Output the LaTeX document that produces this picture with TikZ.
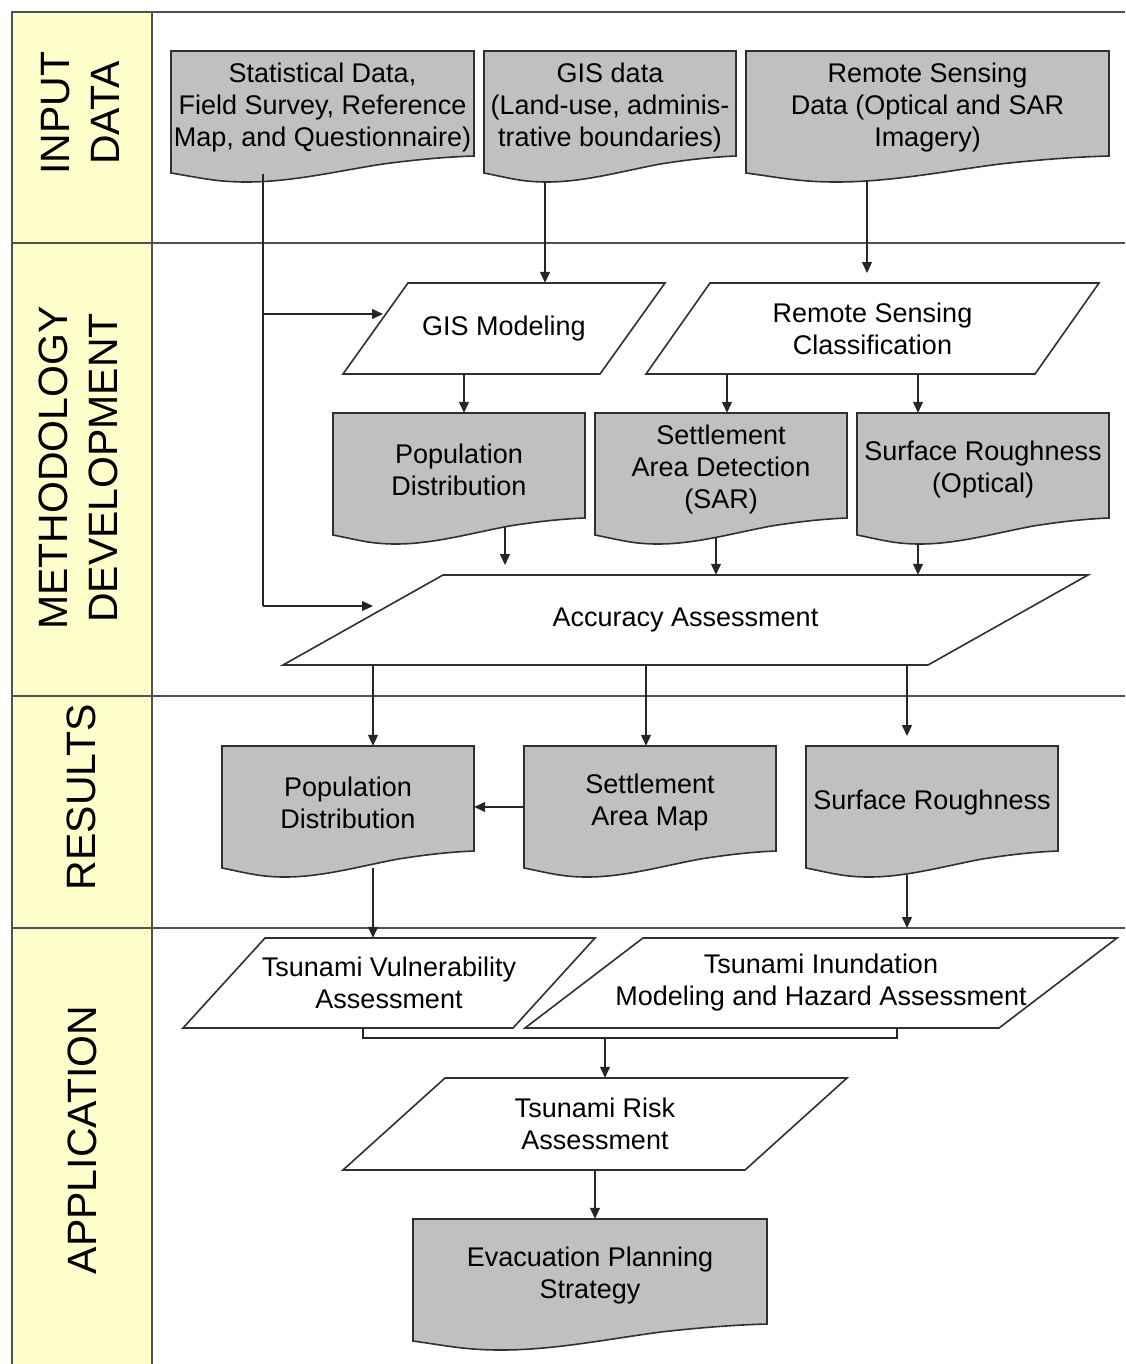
\documentclass[tikz,border=0pt]{standalone}
\usepackage{fontspec}
\setmainfont{Liberation Sans}
\usetikzlibrary{arrows.meta}

\definecolor{lanefill}{HTML}{FFFFCC}
\definecolor{docgray}{HTML}{C0C0C0}
\definecolor{edgecol}{HTML}{303030}
\definecolor{lanecol}{HTML}{505050}

\tikzset{
  boxtext/.style={font=\fontsize{27}{32}\selectfont, align=center, inner sep=0pt, text=black},
  lanetext/.style={font=\fontsize{41}{50}\selectfont, align=center, rotate=90, inner sep=0pt},
  shapeline/.style={draw=edgecol, line width=1.6pt, line join=miter},
  docshape/.style={shapeline, fill=docgray},
  parashape/.style={shapeline, fill=white},
  flow/.style={draw=black!85, line width=1.2pt, -{Triangle[length=11pt,width=10pt]}},
  plainflow/.style={draw=black!85, line width=1.2pt},
  laneframe/.style={draw=lanecol, line width=1.5pt},
}

% document symbol: name, left x, top y, width, text
\newcommand\docnode[5]{%
  \begin{scope}[shift={(#2,-#3)}]
    \path[docshape] (0,0) -- (#4,0) -- (#4,-105)
      .. controls ({0.9*#4},-106) and ({0.8*#4},-109) .. ({0.7*#4},-113)
      .. controls ({0.55*#4},-120) and ({0.4*#4},-131) .. ({0.25*#4},-131)
      .. controls ({0.15*#4},-131) and ({0.1*#4},-127) .. (0,-122) -- cycle;
    \node[boxtext, minimum width=#4pt, minimum height=114pt] (#1) at ({#4/2},-57) {#5};
  \end{scope}}

% data/process parallelogram: name, top-left x, top y, bottom-left x, width, height, text
\newcommand\paranode[7]{%
  \path[parashape] (#2,-#3) -- ({#2+#5},-#3) -- ({#4+#5},{-#3-#6}) -- (#4,{-#3-#6}) -- cycle;
  \node[boxtext, minimum width=#5pt, minimum height=#6pt] (#1) at ({(#2+#4)/2+#5/2},{-#3-#6/2}) {#7};}

\begin{document}
\begin{tikzpicture}[x=1pt,y=1pt]
\useasboundingbox (0,0) rectangle (1125,-1364);

% swimlanes
\fill[lanefill] (12,-12) rectangle (152,-1364);
\draw[laneframe] (1125,-12) -- (12,-12) -- (12,-1364);
\draw[laneframe] (152,-12) -- (152,-1364);
\draw[laneframe] (12,-243) -- (1125,-243);
\draw[laneframe] (12,-696) -- (1125,-696);
\draw[laneframe] (12,-928) -- (1125,-928);

\node[lanetext] (laneinput) at (80,-113) {INPUT\\DATA};
\node[lanetext] (lanemethod) at (78,-468) {METHODOLOGY\\DEVELOPMENT};
\node[lanetext] (laneresult) at (81,-797) {RESULTS};
\node[lanetext] (laneapp) at (82,-1140) {APPLICATION};

% input data
\docnode{stat}{171}{51}{303}{Statistical Data,\\Field Survey, Reference\\Map, and Questionnaire)}
\docnode{gisd}{484}{51}{252}{GIS data\\(Land-use, adminis-\\trative boundaries)}
\docnode{rsd}{746}{51}{363}{Remote Sensing\\Data (Optical and SAR\\Imagery)}

% methodology
\paranode{gism}{408}{283}{343}{257}{91}{GIS Modeling}
\paranode{rscl}{710}{283}{646}{389}{91}{Remote Sensing\\Classification}
\docnode{pop1}{333}{413}{252}{Population\\Distribution}
\docnode{sett1}{595}{413}{252}{Settlement\\Area Detection\\(SAR)}
\docnode{surf1}{857}{413}{252}{Surface Roughness\\(Optical)}
\paranode{acc}{443}{575}{283}{645}{90}{Accuracy Assessment}

% results
\docnode{pop2}{222}{746}{252}{Population\\Distribution}
\docnode{sett2}{524}{746}{252}{Settlement\\Area Map}
\docnode{surf2}{806}{746}{252}{Surface Roughness}

% application
\paranode{vuln}{265}{938}{183}{330}{90}{Tsunami Vulnerability\\Assessment}
\paranode{inund}{643}{938}{525}{474}{90}{Tsunami Inundation\\Modeling and Hazard Assessment}
\paranode{risk}{445}{1078}{343}{402}{92}{Tsunami Risk\\Assessment}
\docnode{evac}{413}{1219}{354}{Evacuation Planning\\Strategy}

% connector start points on the wavy bottoms
\coordinate (statout) at ([shift={(-59.5,-66)}]stat.center);
\coordinate (gisdout) at ([shift={(-65,-74)}]gisd.center);
\coordinate (rsdout) at ([shift={(-60.5,-73)}]rsd.center);
\coordinate (pop1out) at ([shift={(46,-57)}]pop1.center);
\coordinate (sett1out) at ([shift={(-5,-68)}]sett1.center);
\coordinate (surf1out) at ([shift={(-65,-74)}]surf1.center);
\coordinate (pop2out) at ([shift={(25,-65)}]pop2.center);
\coordinate (surf2out) at ([shift={(-25,-72)}]surf2.center);
% start points on parallelogram bottoms
\coordinate (gismout) at ([xshift=-40pt]gism.south);
\coordinate (rsclout1) at ([xshift=-145.5pt]rscl.south);
\coordinate (rsclout2) at ([xshift=45.5pt]rscl.south);
\coordinate (accout1) at ([xshift=-312.5pt]acc.south);
\coordinate (accout2) at ([xshift=-39.5pt]acc.south);
\coordinate (accout3) at ([xshift=221.5pt]acc.south);
\coordinate (vulnout) at ([xshift=-26pt]vuln.south);
\coordinate (inundout) at ([xshift=76pt]inund.south);
\coordinate (sett2out) at ([yshift=-4pt]sett2.west);
\coordinate (pop2in) at ([yshift=-4pt]pop2.east);

% free ends of connectors
\coordinate (busgis) at (263,-314);
\coordinate (busacc) at (263,-606);
\coordinate (gisin) at (383,-314);
\coordinate (accin) at (373,-606);
\coordinate (rsin) at (867,-273);
\coordinate (popin) at (505,-565);
\coordinate (surfin) at (907,-736);
\coordinate (inundin) at (907,-928);
\coordinate (merge) at (605,-1038);

% connectors
\draw[plainflow] (statout) -- (busacc);
\draw[flow] (busgis) -- (gisin);
\draw[flow] (busacc) -- (accin);
\draw[flow] (gisdout) -- (gisdout |- gism.north);
\draw[flow] (rsdout) -- (rsin);

\draw[flow] (gismout) -- (gismout |- pop1.north);
\draw[flow] (rsclout1) -- (rsclout1 |- sett1.north);
\draw[flow] (rsclout2) -- (rsclout2 |- surf1.north);

\draw[flow] (pop1out) -- (popin);
\draw[flow] (sett1out) -- (sett1out |- acc.north);
\draw[flow] (surf1out) -- (surf1out |- acc.north);

\draw[flow] (accout1) -- (accout1 |- pop2.north);
\draw[flow] (accout2) -- (accout2 |- sett2.north);
\draw[flow] (accout3) -- (surfin);

\draw[flow] (sett2out) -- (pop2in);

\draw[flow] (pop2out) -- (pop2out |- vuln.north);
\draw[flow] (surf2out) -- (inundin);

\draw[plainflow] (vulnout) |- (merge) -| (inundout);
\draw[flow] (merge) -- (merge |- risk.north);
\draw[flow] (risk.south) -- (risk.south |- evac.north);
\end{tikzpicture}
\end{document}
